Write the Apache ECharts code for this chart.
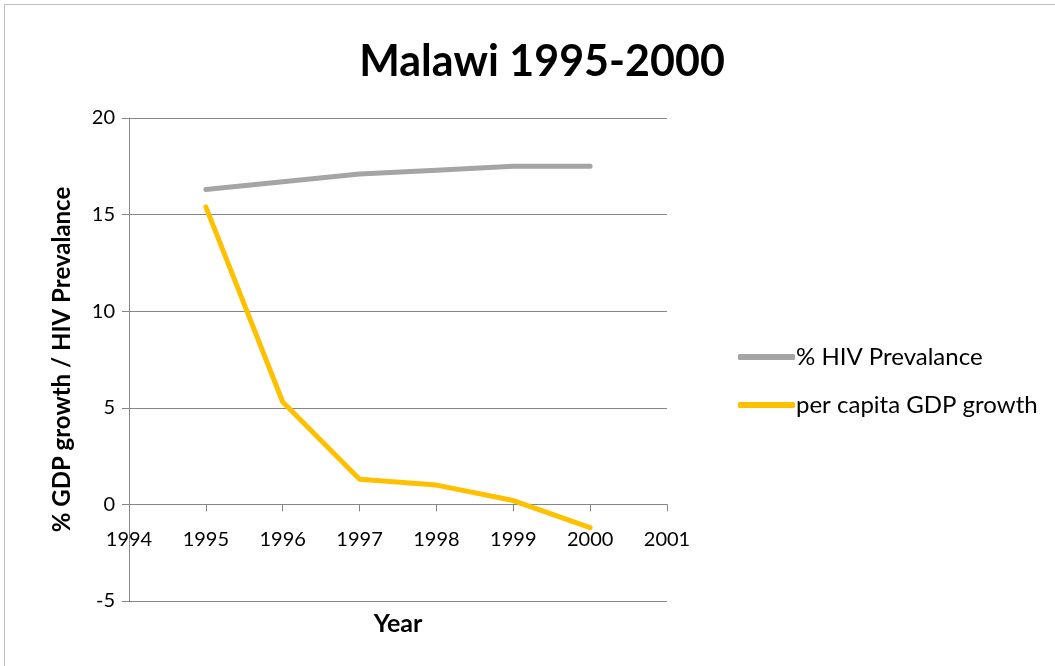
<!DOCTYPE html>
<html>
<head>
<meta charset="utf-8">
<script src="https://cdn.jsdelivr.net/npm/echarts@6/dist/echarts.min.js"></script>
<style>
html,body{margin:0;padding:0;background:#fff;}
#frame{position:absolute;left:4px;top:4px;width:1060px;height:670px;border:1px solid #bfbfbf;box-sizing:border-box;}
#chart{position:absolute;left:0;top:0;width:1055px;height:666px;}
</style>
</head>
<body>
<div id="frame"></div>
<div id="chart"></div>
<script>
const years = [1995, 1996, 1997, 1998, 1999, 2000];
const hivPrevalence = [16.3, 16.7, 17.1, 17.3, 17.5, 17.5];
const gdpGrowth = [15.4, 5.3, 1.3, 1.0, 0.2, -1.2];
const seriesNames = ['% HIV Prevalance', 'per capita GDP growth'];

const font = 'Lato, "Open Sans", sans-serif';
const gridTop = 118, gridBottom = 65, chartH = 666;
const yMin = -5, yMax = 20;
// place the x axis line at y = 0 (as in the reference, where labels hang from the zero line)
const plotH = chartH - gridTop - gridBottom;
const zeroOffset = -plotH * (0 - yMin) / (yMax - yMin);

const chart = echarts.init(document.getElementById('chart'), null, {renderer: 'canvas'});
chart.setOption({
  animation: false,
  backgroundColor: 'transparent',
  title: {
    text: 'Malawi 1995-2000',
    left: 537, top: 36, textAlign: 'center',
    textStyle: {fontFamily: font, fontSize: 43, fontWeight: 'bold', color: '#000'}
  },
  legend: {
    orient: 'vertical', left: 733, top: 340, itemGap: 24,
    icon: 'roundRect', itemWidth: 57, itemHeight: 6,
    textStyle: {fontFamily: font, fontSize: 24, color: '#000', padding: [0,0,0,-4]},
    data: seriesNames
  },
  grid: {left: 129, right: 388, top: gridTop, bottom: gridBottom, containLabel: false, outerBoundsMode: 'none'},
  xAxis: {
    type: 'value', min: 1994, max: 2001, interval: 1,
    position: 'bottom', offset: zeroOffset,
    name: 'Year', nameLocation: 'middle', nameGap: 107,
    nameTextStyle: {fontFamily: font, fontSize: 25, fontWeight: 'bold', color: '#000'},
    axisLine: {onZero: false, lineStyle: {color: '#868686', width: 1}},
    axisTick: {show: true, length: 7, lineStyle: {color: '#868686'}},
    axisLabel: {fontFamily: font, fontSize: 20, color: '#000', margin: 25, formatter: v => String(v)},
    splitLine: {show: false}
  },
  yAxis: {
    type: 'value', min: yMin, max: yMax, interval: 5,
    name: '% GDP growth / HIV Prevalance', nameLocation: 'middle', nameGap: 55,
    nameTextStyle: {fontFamily: font, fontSize: 24, fontWeight: 'bold', color: '#000'},
    axisLine: {show: true, onZero: false, lineStyle: {color: '#868686', width: 1}},
    axisTick: {show: true, length: 7, lineStyle: {color: '#868686'}},
    axisLabel: {fontFamily: font, fontSize: 20, color: '#000', margin: 14},
    splitLine: {show: true, lineStyle: {color: '#868686', width: 1}}
  },
  series: [
    {
      name: seriesNames[0], type: 'line', symbol: 'none',
      data: years.map((y, i) => [y, hivPrevalence[i]]),
      lineStyle: {color: '#A5A5A5', width: 5, cap: 'round', join: 'round'},
      itemStyle: {color: '#A5A5A5'}
    },
    {
      name: seriesNames[1], type: 'line', symbol: 'none',
      data: years.map((y, i) => [y, gdpGrowth[i]]),
      lineStyle: {color: '#FFC000', width: 5, cap: 'round', join: 'round'},
      itemStyle: {color: '#FFC000'}
    }
  ]
});
</script>
</body>
</html>
